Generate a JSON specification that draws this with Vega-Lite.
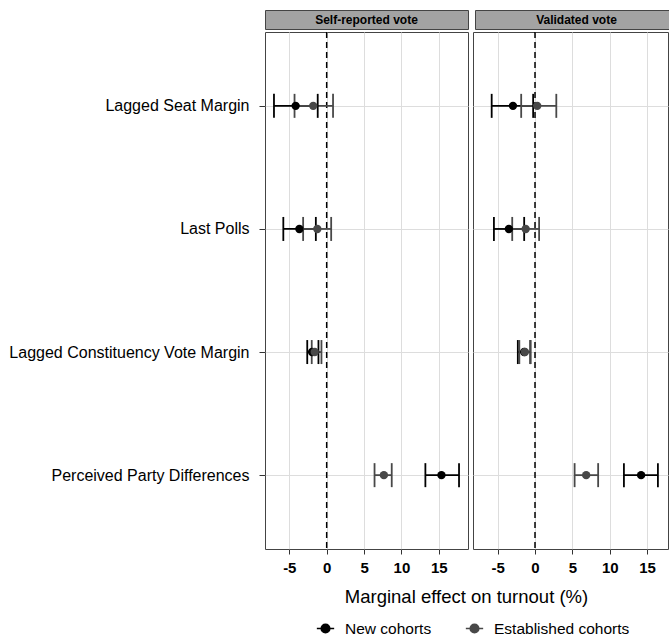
{
  "$schema": "https://vega.github.io/schema/vega-lite/v6.json",
  "padding": {"left": 8, "top": 9, "right": 0, "bottom": 0},
  "config": {
    "font": "Liberation Sans",
    "view": {"stroke": "#444444", "strokeWidth": 1},
    "axis": {"gridColor": "#dddddd", "gridWidth": 1, "domain": false, "tickColor": "#333333", "labelColor": "#000000", "titleColor": "#000000"}
  },
  "datasets": {
    "est": [
      {"panel": "Self-reported vote", "variable": "Lagged Seat Margin", "cohort": "New cohorts", "est": -4.15, "lo": -7.05, "hi": -1.2},
      {"panel": "Self-reported vote", "variable": "Lagged Seat Margin", "cohort": "Established cohorts", "est": -1.8, "lo": -4.3, "hi": 0.85},
      {"panel": "Self-reported vote", "variable": "Last Polls", "cohort": "New cohorts", "est": -3.65, "lo": -5.8, "hi": -1.45},
      {"panel": "Self-reported vote", "variable": "Last Polls", "cohort": "Established cohorts", "est": -1.25, "lo": -3.15, "hi": 0.6},
      {"panel": "Self-reported vote", "variable": "Lagged Constituency Vote Margin", "cohort": "New cohorts", "est": -1.95, "lo": -2.6, "hi": -1.1},
      {"panel": "Self-reported vote", "variable": "Lagged Constituency Vote Margin", "cohort": "Established cohorts", "est": -1.6, "lo": -2.0, "hi": -0.7},
      {"panel": "Self-reported vote", "variable": "Perceived Party Differences", "cohort": "New cohorts", "est": 15.35, "lo": 13.2, "hi": 17.7},
      {"panel": "Self-reported vote", "variable": "Perceived Party Differences", "cohort": "Established cohorts", "est": 7.65, "lo": 6.4, "hi": 8.7},
      {"panel": "Validated vote", "variable": "Lagged Seat Margin", "cohort": "New cohorts", "est": -2.95, "lo": -5.8, "hi": -0.25},
      {"panel": "Validated vote", "variable": "Lagged Seat Margin", "cohort": "Established cohorts", "est": 0.3, "lo": -1.85, "hi": 2.85},
      {"panel": "Validated vote", "variable": "Last Polls", "cohort": "New cohorts", "est": -3.5, "lo": -5.5, "hi": -1.45},
      {"panel": "Validated vote", "variable": "Last Polls", "cohort": "Established cohorts", "est": -1.25, "lo": -3.05, "hi": 0.55},
      {"panel": "Validated vote", "variable": "Lagged Constituency Vote Margin", "cohort": "New cohorts", "est": -1.45, "lo": -2.3, "hi": -0.6},
      {"panel": "Validated vote", "variable": "Lagged Constituency Vote Margin", "cohort": "Established cohorts", "est": -1.35, "lo": -2.1, "hi": -0.65},
      {"panel": "Validated vote", "variable": "Perceived Party Differences", "cohort": "New cohorts", "est": 14.2, "lo": 11.9, "hi": 16.45},
      {"panel": "Validated vote", "variable": "Perceived Party Differences", "cohort": "Established cohorts", "est": 6.85, "lo": 5.3, "hi": 8.45}
    ],
    "strips": [
      {"panel": "Self-reported vote"},
      {"panel": "Validated vote"}
    ],
    "zero": [{"ref": 0}]
  },
  "spacing": 0,
  "vconcat": [
    {
      "spacing": 5,
      "hconcat": [
        {
          "width": 203, "height": 19,
          "view": {"fill": "#a3a3a3", "stroke": "#444444"},
          "data": {"name": "strips"},
          "transform": [{"filter": "datum.panel === 'Self-reported vote'"}],
          "mark": {"type": "text", "fontSize": 12, "fontWeight": "bold", "color": "#000000"},
          "encoding": {"text": {"field": "panel", "type": "nominal"}}
        },
        {
          "width": 195, "height": 19,
          "view": {"fill": "#a3a3a3", "stroke": "#444444"},
          "data": {"name": "strips"},
          "transform": [{"filter": "datum.panel === 'Validated vote'"}],
          "mark": {"type": "text", "fontSize": 12, "fontWeight": "bold", "color": "#000000", "dx": 4},
          "encoding": {"text": {"field": "panel", "type": "nominal"}}
        }
      ]
    },
    {
      "spacing": 5,
      "bounds": "flush",
      "hconcat": [
        {
          "width": 203, "height": 517,
          "data": {"name": "est"},
          "transform": [{"filter": "datum.panel === 'Self-reported vote'"}],
          "layer": [
            {
              "data": {"name": "zero"},
              "mark": {"type": "rule", "strokeDash": [6, 4], "strokeWidth": 1.5, "color": "#000000"},
              "encoding": {"x": {"field": "ref", "type": "quantitative"}}
            },
            {
              "mark": {"type": "rule", "strokeWidth": 1.8},
              "encoding": {
                "y": {"field": "variable", "type": "nominal", "sort": ["Lagged Seat Margin", "Last Polls", "Lagged Constituency Vote Margin", "Perceived Party Differences"]},
                "x": {"field": "lo", "type": "quantitative"},
                "x2": {"field": "hi"},
                "color": {"field": "cohort", "type": "nominal"}
              }
            },
            {
              "mark": {"type": "tick", "orient": "vertical", "size": 24, "thickness": 1.8, "opacity": 1},
              "encoding": {
                "y": {"field": "variable", "type": "nominal", "sort": ["Lagged Seat Margin", "Last Polls", "Lagged Constituency Vote Margin", "Perceived Party Differences"]},
                "x": {"field": "lo", "type": "quantitative"},
                "color": {"field": "cohort", "type": "nominal"}
              }
            },
            {
              "mark": {"type": "tick", "orient": "vertical", "size": 24, "thickness": 1.8, "opacity": 1},
              "encoding": {
                "y": {"field": "variable", "type": "nominal", "sort": ["Lagged Seat Margin", "Last Polls", "Lagged Constituency Vote Margin", "Perceived Party Differences"]},
                "x": {"field": "hi", "type": "quantitative"},
                "color": {"field": "cohort", "type": "nominal"}
              }
            },
            {
              "mark": {"type": "point", "filled": true, "size": 70, "opacity": 1},
              "encoding": {
                "y": {
                  "field": "variable", "type": "nominal",
                  "sort": ["Lagged Seat Margin", "Last Polls", "Lagged Constituency Vote Margin", "Perceived Party Differences"],
                  "scale": {"type": "point", "padding": 0.6},
                  "axis": {"title": null, "labelFontSize": 16, "tickSize": 6, "labelPadding": 10, "grid": true, "labelLimit": 400}
                },
                "x": {
                  "field": "est", "type": "quantitative",
                  "scale": {"domain": [-8.25, 18.9], "nice": false, "zero": false},
                  "axis": {"values": [-5, 0, 5, 10, 15], "labelExpr": "'' + datum.value", "labelFontSize": 15, "labelFontWeight": "bold", "tickSize": 5, "labelPadding": 6, "grid": true,
                    "title": "Marginal effect on turnout (%)", "titleFontSize": 18.5, "titleFontWeight": "normal", "titleX": 201, "titlePadding": 12}
                },
                "color": {
                  "field": "cohort", "type": "nominal",
                  "scale": {"domain": ["New cohorts", "Established cohorts"], "range": ["#000000", "#484848"]},
                  "legend": {
                    "title": null, "orient": "none", "direction": "horizontal", "legendX": 51, "legendY": 609,
                    "symbolType": "M-1,0H1M-0.5,0A0.5,0.5,0,1,1,0.5,0A0.5,0.5,0,1,1,-0.5,0Z",
                    "symbolSize": 300, "symbolStrokeWidth": 1.5,
                    "labelFontSize": 15.5, "labelColor": "#000000", "columnPadding": 30, "labelOffset": 10,
                    "encode": {"symbols": {"update": {"stroke": {"scale": "color", "field": "value"}, "fill": {"scale": "color", "field": "value"}}}}
                  }
                }
              }
            }
          ]
        },
        {
          "width": 195, "height": 517,
          "data": {"name": "est"},
          "transform": [{"filter": "datum.panel === 'Validated vote'"}],
          "layer": [
            {
              "data": {"name": "zero"},
              "mark": {"type": "rule", "strokeDash": [6, 4], "strokeWidth": 1.5, "color": "#000000"},
              "encoding": {"x": {"field": "ref", "type": "quantitative"}}
            },
            {
              "mark": {"type": "rule", "strokeWidth": 1.8},
              "encoding": {
                "y": {"field": "variable", "type": "nominal", "sort": ["Lagged Seat Margin", "Last Polls", "Lagged Constituency Vote Margin", "Perceived Party Differences"]},
                "x": {"field": "lo", "type": "quantitative"},
                "x2": {"field": "hi"},
                "color": {"field": "cohort", "type": "nominal"}
              }
            },
            {
              "mark": {"type": "tick", "orient": "vertical", "size": 24, "thickness": 1.8, "opacity": 1},
              "encoding": {
                "y": {"field": "variable", "type": "nominal", "sort": ["Lagged Seat Margin", "Last Polls", "Lagged Constituency Vote Margin", "Perceived Party Differences"]},
                "x": {"field": "lo", "type": "quantitative"},
                "color": {"field": "cohort", "type": "nominal"}
              }
            },
            {
              "mark": {"type": "tick", "orient": "vertical", "size": 24, "thickness": 1.8, "opacity": 1},
              "encoding": {
                "y": {"field": "variable", "type": "nominal", "sort": ["Lagged Seat Margin", "Last Polls", "Lagged Constituency Vote Margin", "Perceived Party Differences"]},
                "x": {"field": "hi", "type": "quantitative"},
                "color": {"field": "cohort", "type": "nominal"}
              }
            },
            {
              "mark": {"type": "point", "filled": true, "size": 70, "opacity": 1},
              "encoding": {
                "y": {
                  "field": "variable", "type": "nominal",
                  "sort": ["Lagged Seat Margin", "Last Polls", "Lagged Constituency Vote Margin", "Perceived Party Differences"],
                  "scale": {"type": "point", "padding": 0.6},
                  "axis": {"title": null, "labels": false, "ticks": false, "grid": true}
                },
                "x": {
                  "field": "est", "type": "quantitative",
                  "scale": {"domain": [-8.3, 17.8], "nice": false, "zero": false},
                  "axis": {"values": [-5, 0, 5, 10, 15], "labelExpr": "'' + datum.value", "labelFontSize": 15, "labelFontWeight": "bold", "tickSize": 5, "labelPadding": 6, "grid": true, "title": null}
                },
                "color": {"field": "cohort", "type": "nominal"}
              }
            }
          ]
        }
      ]
    }
  ]
}
